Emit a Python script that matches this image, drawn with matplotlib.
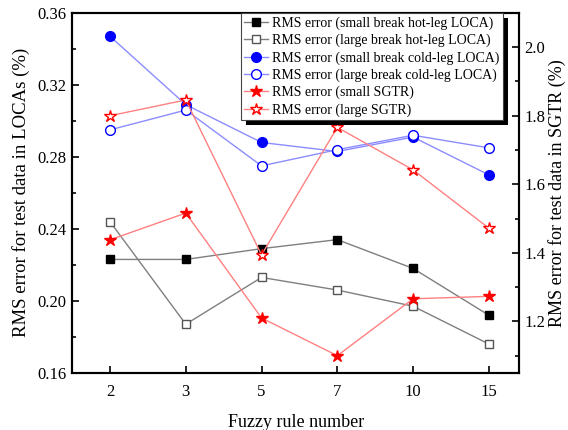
import matplotlib
matplotlib.use("Agg")
import matplotlib.pyplot as plt
from matplotlib.patches import Rectangle
from matplotlib.ticker import MultipleLocator

plt.rcParams["font.family"] = ["Liberation Serif", "DejaVu Serif"]

rules = ["2", "3", "5", "7", "10", "15"]

# LOCA errors (left axis)
small_hot = [0.223, 0.223, 0.229, 0.234, 0.218, 0.192]
large_hot = [0.244, 0.187, 0.213, 0.206, 0.197, 0.176]
small_cold = [0.347, 0.309, 0.288, 0.283, 0.291, 0.270]
large_cold = [0.295, 0.306, 0.275, 0.284, 0.292, 0.285]

# SGTR errors (right axis)
small_sgtr = [1.438, 1.516, 1.210, 1.100, 1.266, 1.273]
large_sgtr = [1.800, 1.846, 1.394, 1.766, 1.642, 1.472]

x = list(range(len(rules)))

fig = plt.figure(figsize=(5.68, 4.30), dpi=100)
ax = fig.add_axes([0.127, 0.133, 0.787, 0.837])
ax2 = ax.twinx()

h1, = ax.plot(x, small_hot, color="#7f7f7f", lw=1, marker="s", ms=6,
              mfc="black", mec="black", label="RMS error (small break hot-leg LOCA)")
h2, = ax.plot(x, large_hot, color="#7f7f7f", lw=1, marker="s", ms=6,
              mfc="white", mec="#555555", label="RMS error (large break hot-leg LOCA)")
h3, = ax.plot(x, small_cold, color="#8c8cff", lw=1, marker="o", ms=7,
              mfc="blue", mec="blue", label="RMS error (small break cold-leg LOCA)")
h4, = ax.plot(x, large_cold, color="#8c8cff", lw=1, marker="o", ms=7,
              mfc="white", mec="blue", label="RMS error (large break cold-leg LOCA)")
h5, = ax2.plot(x, small_sgtr, color="#ff8080", lw=1, marker="*", ms=9,
               mfc="red", mec="red", label="RMS error (small SGTR)")
h6, = ax2.plot(x, large_sgtr, color="#ff8080", lw=1, marker="*", ms=9,
               mfc="white", mec="red", label="RMS error (large SGTR)")

ax.set_xlim(-0.5, 5.4)
ax.set_ylim(0.16, 0.36)
ax2.set_ylim(1.05, 2.1)
ax.set_xticks(x)
ax.set_xticklabels(rules)
ax.yaxis.set_major_locator(MultipleLocator(0.04))
ax.yaxis.set_minor_locator(MultipleLocator(0.02))
ax.yaxis.set_major_formatter(plt.FormatStrFormatter("%.2f"))
ax2.yaxis.set_major_locator(MultipleLocator(0.2))
ax2.yaxis.set_minor_locator(MultipleLocator(0.1))

for a in (ax, ax2):
    a.tick_params(direction="in", which="both", labelsize=12, width=1.2)
    a.tick_params(which="major", length=5)
    a.tick_params(which="minor", length=3)
    for s in a.spines.values():
        s.set_linewidth(1.5)
ax.tick_params(axis="y", pad=4)
ax2.tick_params(axis="y", pad=4)
ax.tick_params(axis="x", top=False, pad=8)

ax.set_xlabel("Fuzzy rule number", fontsize=13, labelpad=10)
ax.set_ylabel("RMS error for test data in LOCAs (%)", fontsize=13.5, labelpad=5)
ax2.set_ylabel("RMS error for test data in SGTR (%)", fontsize=13, labelpad=2)

leg = ax2.legend(handles=[h1, h2, h3, h4, h5, h6], loc="upper right",
                 bbox_to_anchor=(0.963, 1.0), fontsize=10, handlelength=1.7,
                 handletextpad=0.3, labelspacing=0.28, borderpad=0.25,
                 borderaxespad=0, fancybox=False, framealpha=1,
                 edgecolor="#444444")
leg.get_frame().set_linewidth(0.8)
leg.set_zorder(6)

# thick black drop shadow behind the legend box
fig.canvas.draw()
bb = leg.get_window_extent()
shadow = Rectangle((bb.x0 + 5, bb.y0 - 5), bb.width, bb.height,
                   transform=None, facecolor="black", edgecolor="none", zorder=5.5)
ax2.add_artist(shadow)

fig.savefig("out.png", dpi=100)
